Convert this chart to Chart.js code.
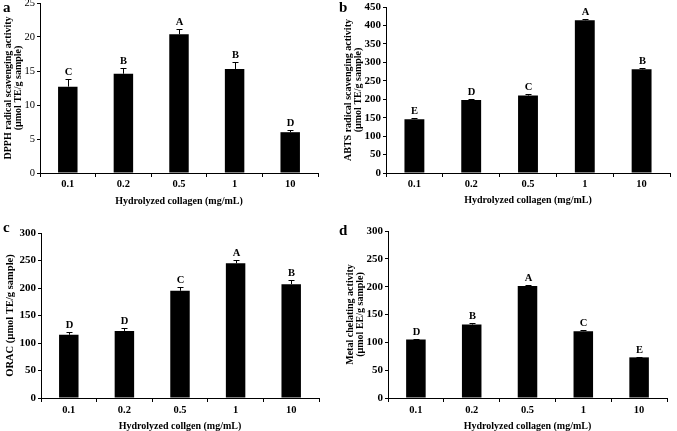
<!DOCTYPE html>
<html>
<head>
<meta charset="utf-8">
<script src="https://cdn.jsdelivr.net/npm/chart.js@4/dist/chart.umd.min.js"></script>
<style>
  html, body { margin: 0; padding: 0; background: #fff; }
  #wrap { position: relative; width: 677px; height: 431px; overflow: hidden; background: #fff; }
  canvas { position: absolute; }
  .plab { position: absolute; font-family: "Liberation Serif", serif; font-weight: bold; font-size: 15px; color: #000; line-height: 1; }
</style>
</head>
<body>
<div id="wrap">
  <canvas id="ca" width="338" height="215" style="left:0;top:0"></canvas>
  <canvas id="cb" width="339" height="215" style="left:338px;top:0"></canvas>
  <canvas id="cc" width="338" height="216" style="left:0;top:215px"></canvas>
  <canvas id="cd" width="339" height="216" style="left:338px;top:215px"></canvas>
  <div class="plab" style="left:3px;top:0px">a</div>
  <div class="plab" style="left:339px;top:0px">b</div>
  <div class="plab" style="left:3px;top:220px">c</div>
  <div class="plab" style="left:339px;top:223px">d</div>
</div>
<script>
// ---- data ----
const categories = ['0.1', '0.2', '0.5', '1', '10'];

const dpphValues = [12.7, 14.6, 20.4, 15.3, 6.0];
const dpphErrors = [1.1, 0.9, 0.8, 1.0, 0.35];
const dpphLetters = ['C', 'B', 'A', 'B', 'D'];
const dpphTicks = [0, 5, 10, 15, 20, 25];

const abtsValues = [146, 198, 210, 414, 281];
const abtsErrors = [2, 3.5, 5, 3, 4.5];
const abtsLetters = ['E', 'D', 'C', 'A', 'B'];
const abtsTicks = [0, 50, 100, 150, 200, 250, 300, 350, 400, 450];

const oracValues = [115, 122, 195, 245, 207];
const oracErrors = [5, 5, 6, 5, 8];
const oracLetters = ['D', 'D', 'C', 'A', 'B'];
const oracTicks = [0, 50, 100, 150, 200, 250, 300];

const chelValues = [105, 132, 201, 120, 73];
const chelErrors = [1.5, 2, 1.5, 1.5, 1];
const chelLetters = ['D', 'B', 'A', 'C', 'E'];
const chelTicks = [0, 50, 100, 150, 200, 250, 300];

// ---- drawing ----
const FONT = 'Liberation Serif';
Chart.defaults.color = '#000';
Chart.defaults.font.family = FONT;

const errPlugin = {
  id: 'errbars',
  afterDatasetsDraw(chart, args, opts) {
    const ctx = chart.ctx;
    const y = chart.scales.y;
    const meta = chart.getDatasetMeta(0);
    const data = chart.data.datasets[0].data;
    ctx.save();
    ctx.strokeStyle = '#000';
    ctx.fillStyle = '#000';
    ctx.lineWidth = 1;
    meta.data.forEach((bar, i) => {
      const v = data[i];
      const xc = Math.round(bar.x) + 0.5;
      const yv = y.getPixelForValue(v);
      const yt = Math.round(y.getPixelForValue(v + opts.errors[i])) + 0.5;
      ctx.beginPath();
      ctx.moveTo(xc, yv);
      ctx.lineTo(xc, yt);
      ctx.moveTo(xc - 3, yt);
      ctx.lineTo(xc + 3, yt);
      ctx.stroke();
      ctx.font = 'bold 10.5px "' + FONT + '"';
      ctx.textAlign = 'center';
      ctx.textBaseline = 'alphabetic';
      ctx.fillText(opts.letters[i], xc, yt - 5);
    });
    ctx.restore();
  }
};

function makeChart(id, p) {
  const ticks = p.ticks;
  new Chart(document.getElementById(id), {
    type: 'bar',
    data: {
      labels: categories,
      datasets: [{
        data: p.values,
        backgroundColor: '#000',
        borderWidth: 0,
        barPercentage: 0.35,
        categoryPercentage: 1
      }]
    },
    options: {
      responsive: false,
      animation: false,
      devicePixelRatio: 1,
      layout: { padding: p.pad },
      plugins: {
        legend: { display: false },
        tooltip: { enabled: false },
        errbars: { errors: p.errors, letters: p.letters }
      },
      scales: {
        x: {
          grid: { drawOnChartArea: false, drawTicks: true, tickLength: 4, color: '#000', offset: true },
          border: { color: '#000', width: 1 },
          ticks: { padding: p.xTickPad, font: { size: 10.5, weight: 'bold' }, maxRotation: 0 },
          title: { display: true, text: p.xTitle, font: { size: 10, weight: 'bold', lineHeight: 1.0 }, padding: { top: 0, bottom: p.xTitlePad } },
          afterFit(s) { s.height = p.xH; s.paddingLeft = 0; s.paddingRight = 0; }
        },
        y: {
          min: ticks[0],
          max: ticks[ticks.length - 1],
          grid: { drawOnChartArea: false, drawTicks: true, tickLength: 3, color: '#000' },
          border: { color: '#000', width: 1 },
          ticks: { stepSize: ticks[1] - ticks[0], padding: 2, font: { size: p.yTickSize, weight: p.yTickWeight } },
          afterBuildTicks(s) { s.ticks = ticks.map(v => ({ value: v })); },
          title: { display: true, text: p.yTitle, font: { size: p.yTitleSize, weight: 'bold', lineHeight: 1.0 }, padding: { top: p.yTitlePad, bottom: 0 } },
          afterFit(s) { s.width = p.yW; s.paddingTop = 0; s.paddingBottom = 0; }
        }
      }
    },
    plugins: [errPlugin]
  });
}

makeChart('ca', {
  values: dpphValues, errors: dpphErrors, letters: dpphLetters, ticks: dpphTicks,
  xTitle: 'Hydrolyzed collagen (mg/mL)',
  yTitle: ['DPPH radical scavenging activity', '(\u00b5mol TE/g sample)'],
  pad: { top: 3, left: 0, right: 20, bottom: 0 }, yW: 40, xH: 42,
  xTickPad: 1, xTitlePad: 9, yTitlePad: 3, yTickWeight: 'normal', yTickSize: 10.5, yTitleSize: 10
});
makeChart('cb', {
  values: abtsValues, errors: abtsErrors, letters: abtsLetters, ticks: abtsTicks,
  xTitle: 'Hydrolyzed collagen (mg/mL)',
  yTitle: ['ABTS radical scavenging activity', '(\u00b5mol TE/g sample)'],
  pad: { top: 7, left: 0, right: 7, bottom: 0 }, yW: 48, xH: 42,
  xTickPad: 1, xTitlePad: 10, yTitlePad: 5, yTickWeight: 'bold', yTickSize: 11, yTitleSize: 10
});
makeChart('cc', {
  values: oracValues, errors: oracErrors, letters: oracLetters, ticks: oracTicks,
  xTitle: 'Hydrolyzed collgen (mg/mL)',
  yTitle: 'ORAC (\u00b5mol TE/g sample)',
  pad: { top: 18, left: 0, right: 19, bottom: 0 }, yW: 41, xH: 33,
  xTickPad: 2, xTitlePad: 0, yTitlePad: 5, yTickWeight: 'bold', yTickSize: 11, yTitleSize: 10.5
});
makeChart('cd', {
  values: chelValues, errors: chelErrors, letters: chelLetters, ticks: chelTicks,
  xTitle: 'Hydrolyzed collagen (mg/mL)',
  yTitle: ['Metal chelating activity', '(\u00b5mol EE/g sample)'],
  pad: { top: 16, left: 0, right: 10, bottom: 0 }, yW: 50, xH: 33,
  xTickPad: 2, xTitlePad: 0, yTitlePad: 7, yTickWeight: 'bold', yTickSize: 11, yTitleSize: 10
});
</script>
</body>
</html>
